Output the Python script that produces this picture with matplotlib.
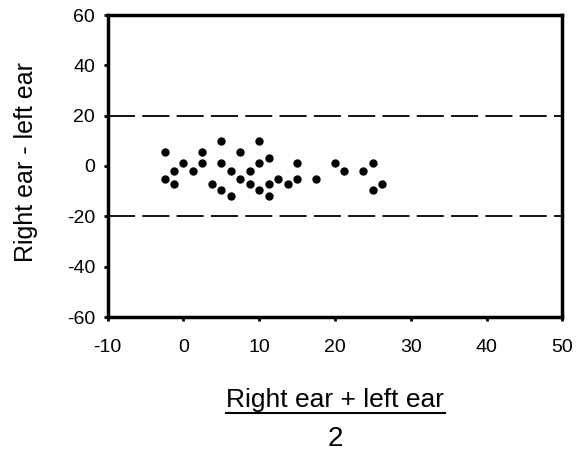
import matplotlib.pyplot as plt
from matplotlib.lines import Line2D

plt.rcParams['font.family'] = ['Liberation Sans', 'DejaVu Sans']
plt.rcParams['axes.unicode_minus'] = False

# mean of the two ears
mean_ear = [-2.5, -1.25, 0, -2.5, -1.25, 1.25, 2.5, 2.5, 5, 3.75, 5, 5,
            6.25, 6.25, 7.5, 7.5, 8.75, 8.75, 10, 10, 11.25, 10, 11.25, 11.25,
            12.5, 13.75, 15, 15, 17.5, 20, 21.25, 23.75, 25, 25, 26.25]
# right ear minus left ear
diff_ear = [5.5, -2, 1, -5, -7, -2, 5.5, 1, 10, -7, 1, -9.5,
            -2, -12, 5.5, -5, -2, -7, 10, 1, 3, -9.5, -7, -12,
            -5, -7, 1, -5, -5, 1, -2, -2, 1, -9.5, -7]
limits = [-20, 20]

W, H = 576, 458
fig = plt.figure(figsize=(W / 100, H / 100), dpi=100)
ax = fig.add_axes([107.7 / W, 1 - 317 / H, (562.3 - 107.7) / W, (317 - 15) / H])

# Limits of agreement
for lim in limits:
    ax.axhline(lim, color='black', lw=1.3, dashes=(15, 4))

ax.plot(mean_ear, diff_ear, 'o', color='black', markersize=5)

ax.set_xlim(-10, 50)
ax.set_ylim(-60, 60)
ax.set_xticks(range(-10, 51, 10))
ax.set_yticks(range(-60, 61, 20))
for s in ax.spines.values():
    s.set_linewidth(2.5)
ax.tick_params(direction='out', length=3, width=2, labelsize=14, pad=6)
ax.tick_params(axis='x', pad=13)

# y label
fig.text(26 / W, 1 - 162 / H, 'Right ear - left ear', rotation=90,
         ha='center', va='center', fontsize=18)

# x label drawn as a fraction
fig.text(335 / W, 1 - 400 / H, 'Right ear + left ear', ha='center',
         va='center', fontsize=19)
fig.add_artist(Line2D([226 / W, 445 / W], [1 - 413 / H, 1 - 413 / H],
                      color='black', lw=1.5, transform=fig.transFigure))
fig.text(335 / W, 1 - 439 / H, '2', ha='center', va='center', fontsize=20)

fig.savefig('out.png', dpi=100)
